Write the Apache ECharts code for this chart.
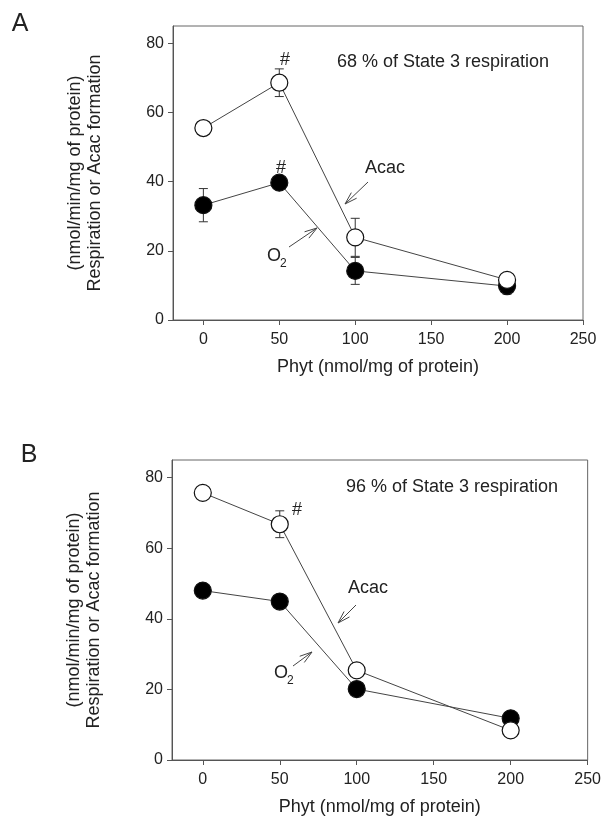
<html>
<head>
  <meta charset="utf-8">
  <title>Phyt - respiration and Acac formation</title>
  <script src="https://cdn.jsdelivr.net/npm/echarts@6/dist/echarts.min.js"></script>
</head>
<body style="margin:0">
  <div id="main" style="width: 604px;height:822px;"></div>
  <script type="text/javascript">
    // data
    var phyt = [0, 50, 100, 200];
    var acacA = [55.5, 68.6, 23.9, 11.6];
    var o2A = [33.2, 39.7, 14.2, 9.8];
    var acacA_se = [0, 4.0, 5.5, 0];
    var o2A_se = [4.8, 0, 3.9, 2.3];
    var acacB = [75.7, 66.8, 25.4, 8.4];
    var o2B = [48.0, 44.9, 20.1, 11.8];
    var acacB_se = [0, 3.8, 0, 0];
    var o2B_se = [0, 0, 0, 0];
    var xTicks = [0, 50, 100, 150, 200, 250];
    var yTicks = [0, 20, 40, 60, 80];

    var font = '"Liberation Sans", Arial, sans-serif';
    var ink = '#222';
    var axisColor = '#555';

    function pts(ys) {
      return phyt.map(function (x, i) { return [x, ys[i]]; });
    }
    function bars(ys, se) {
      var out = [];
      for (var i = 0; i < phyt.length; i++) {
        if (se[i] > 0) out.push([phyt[i], ys[i] - se[i], ys[i] + se[i]]);
      }
      return out;
    }

    function renderErr(params, api) {
      var x = api.value(0);
      var lo = api.coord([x, api.value(1)]);
      var hi = api.coord([x, api.value(2)]);
      var w = 4.5;
      var st = { stroke: '#333', lineWidth: 1 };
      return {
        type: 'group',
        children: [
          { type: 'line', shape: { x1: lo[0], y1: lo[1], x2: hi[0], y2: hi[1] }, style: st },
          { type: 'line', shape: { x1: lo[0] - w, y1: lo[1], x2: lo[0] + w, y2: lo[1] }, style: st },
          { type: 'line', shape: { x1: hi[0] - w, y1: hi[1], x2: hi[0] + w, y2: hi[1] }, style: st }
        ]
      };
    }

    function xAx(gi) {
      return {
        type: 'value', gridIndex: gi, min: -20, max: 250,
        name: 'Phyt (nmol/mg of protein)', nameLocation: 'middle', nameGap: 38,
        nameTextStyle: { fontSize: 18, color: ink, fontFamily: font },
        axisLine: { onZero: false, lineStyle: { color: axisColor } },
        axisTick: { customValues: xTicks, length: 5, lineStyle: { color: axisColor } },
        axisLabel: { customValues: xTicks, margin: 12, fontSize: 16, color: ink, fontFamily: font },
        splitLine: { show: false }
      };
    }
    function yAx(gi) {
      return {
        type: 'value', gridIndex: gi, min: 0, max: 85,
        name: '(nmol/min/mg of protein)\nRespiration or Acac formation',
        nameLocation: 'middle', nameRotate: 90, nameGap: 68,
        nameTextStyle: { fontSize: 18, lineHeight: 20, color: ink, fontFamily: font },
        axisLine: { onZero: false, lineStyle: { color: axisColor } },
        axisTick: { customValues: yTicks, length: 5, lineStyle: { color: axisColor } },
        axisLabel: { customValues: yTicks, margin: 9, fontSize: 16, color: ink, fontFamily: font },
        splitLine: { show: false }
      };
    }

    function errSeries(gi, data) {
      return {
        type: 'custom', xAxisIndex: gi, yAxisIndex: gi, renderItem: renderErr,
        encode: { x: 0, y: [1, 2] }, data: data, z: 1, silent: true
      };
    }
    function lineSeries(gi, data, filled) {
      return {
        type: 'line', xAxisIndex: gi, yAxisIndex: gi, data: data,
        symbol: 'circle', symbolSize: 17, showAllSymbol: true,
        lineStyle: { color: '#444', width: 1 },
        itemStyle: { color: filled ? '#000' : '#fff', borderColor: '#111', borderWidth: 1.2 },
        z: filled ? 2 : 3, silent: true
      };
    }

    function txt(x, y, s, size, align) {
      return {
        type: 'text', x: x, y: y, silent: true,
        style: { text: s, font: size + 'px ' + font, fill: ink, align: align || 'left', verticalAlign: 'middle',
                 textAlign: align || 'left', textVerticalAlign: 'middle' }
      };
    }
    function arrow(x1, y1, x2, y2) {
      var a = Math.atan2(y2 - y1, x2 - x1), L = 13, s = 0.3;
      var st = { stroke: '#444', lineWidth: 1 };
      return {
        type: 'group', silent: true,
        children: [
          { type: 'line', shape: { x1: x1, y1: y1, x2: x2, y2: y2 }, style: st },
          { type: 'line', shape: { x1: x2, y1: y2, x2: x2 - L * Math.cos(a - s), y2: y2 - L * Math.sin(a - s) }, style: st },
          { type: 'line', shape: { x1: x2, y1: y2, x2: x2 - L * Math.cos(a + s), y2: y2 - L * Math.sin(a + s) }, style: st }
        ]
      };
    }

    var myChart = echarts.init(document.getElementById('main'));
    myChart.setOption({
      animation: false,
      backgroundColor: '#fff',
      grid: [
        { left: 173, top: 26, width: 410, height: 294, show: true, borderColor: '#666', borderWidth: 1 },
        { left: 172, top: 460, width: 416, height: 300, show: true, borderColor: '#666', borderWidth: 1 }
      ],
      xAxis: [xAx(0), xAx(1)],
      yAxis: [yAx(0), yAx(1)],
      series: [
        errSeries(0, bars(o2A, o2A_se)),
        errSeries(0, bars(acacA, acacA_se)),
        lineSeries(0, pts(o2A), true),
        lineSeries(0, pts(acacA), false),
        errSeries(1, bars(o2B, o2B_se)),
        errSeries(1, bars(acacB, acacB_se)),
        lineSeries(1, pts(o2B), true),
        lineSeries(1, pts(acacB), false)
      ],
      graphic: [
        txt(20, 24, 'A', 25, 'center'),
        txt(29, 455, 'B', 25, 'center'),
        txt(337, 62, '68 % of State 3 respiration', 18),
        txt(285, 60, '#', 18, 'center'),
        txt(281, 168, '#', 18, 'center'),
        txt(365, 168, 'Acac', 18),
        txt(267, 256, 'O', 18),
        txt(280, 264, '2', 12),
        arrow(368, 182, 345, 204),
        arrow(289, 247, 317, 228),
        txt(346, 487, '96 % of State 3 respiration', 18),
        txt(297, 510, '#', 18, 'center'),
        txt(348, 588, 'Acac', 18),
        txt(274, 673, 'O', 18),
        txt(287, 681, '2', 12),
        arrow(356, 605, 338, 623),
        arrow(293, 666, 312, 652)
      ]
    });
  </script>
</body>
</html>
